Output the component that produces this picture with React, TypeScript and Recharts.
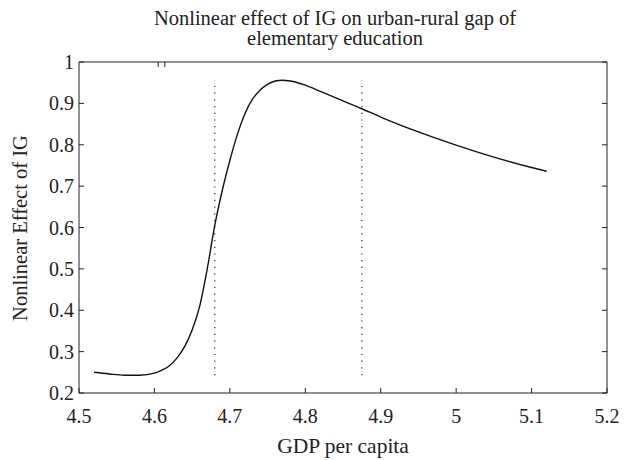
import React from 'react';
import { LineChart, Line, XAxis, YAxis, ReferenceLine } from 'recharts';

const gdp = [
  4.52, 4.54, 4.56, 4.58, 4.6, 4.61, 4.62, 4.63, 4.64, 4.65, 4.66, 4.67, 4.68, 4.69,
  4.7, 4.71, 4.72, 4.73, 4.74, 4.75, 4.76, 4.77, 4.78, 4.8, 4.82, 4.85, 4.875, 4.9,
  4.95, 5.0, 5.05, 5.1, 5.12,
];
const effect = [
  0.25, 0.246, 0.243, 0.243, 0.248, 0.255, 0.266, 0.285, 0.312, 0.352, 0.41, 0.5, 0.605, 0.69,
  0.762, 0.825, 0.875, 0.91, 0.932, 0.946, 0.954, 0.956, 0.954, 0.944, 0.929, 0.906, 0.887, 0.867,
  0.831, 0.799, 0.77, 0.745, 0.736,
];
const thresholds = [4.68, 4.875];
const thresholdSpan = [0.243, 0.956];
const xTicks = [4.5, 4.6, 4.7, 4.8, 4.9, 5, 5.1, 5.2];
const yTicks = [0.2, 0.3, 0.4, 0.5, 0.6, 0.7, 0.8, 0.9, 1];

const data = gdp.map((x, i) => ({ x, y: effect[i] }));

const font = '"Liberation Serif"';
const ink = '#222';
const tickStyle = { fill: ink, fontSize: 20, fontFamily: font };

export default function App() {
  return (
    <div style={{ position: 'absolute', left: 0, top: 0, width: 628, height: 460, background: '#fff' }}>
      <div
        style={{
          position: 'absolute', left: 135, top: 8, width: 400, textAlign: 'center',
          fontFamily: font, fontSize: 20.5, lineHeight: '20px', color: ink,
        }}
      >
        Nonlinear effect of IG on urban-rural gap of
        <br />
        elementary education
      </div>
      <div
        style={{
          position: 'absolute', left: 20, top: 228, transform: 'translate(-50%, -50%) rotate(-90deg)',
          whiteSpace: 'nowrap', fontFamily: font, fontSize: 20.5, color: ink,
        }}
      >
        Nonlinear Effect of IG
      </div>
      <LineChart width={628} height={460} data={data} margin={{ top: 52, right: 11, bottom: 0, left: 0 }}>
        <XAxis
          dataKey="x"
          type="number"
          domain={[4.5, 5.2]}
          ticks={xTicks}
          allowDataOverflow
          height={67}
          tickSize={-5}
          tickMargin={21}
          stroke={ink}
          tick={tickStyle}
          label={{ value: 'GDP per capita', position: 'insideBottom', offset: 7, fill: ink, fontSize: 21.5, fontFamily: font }}
        />
        <XAxis
          xAxisId="top"
          orientation="top"
          type="number"
          domain={[4.5, 5.2]}
          ticks={xTicks}
          allowDataOverflow
          height={10}
          tickSize={-5}
          stroke={ink}
          tickFormatter={() => ''}
        />
        <YAxis
          type="number"
          domain={[0.2, 1]}
          ticks={yTicks}
          allowDataOverflow
          width={79}
          tickSize={-5}
          tickMargin={10}
          stroke={ink}
          tick={tickStyle}
        />
        <YAxis
          yAxisId="right"
          orientation="right"
          type="number"
          domain={[0.2, 1]}
          ticks={yTicks}
          allowDataOverflow
          width={10}
          tickSize={-5}
          stroke={ink}
          tickFormatter={() => ''}
        />
        {thresholds.map((t) => (
          <ReferenceLine
            key={t}
            segment={[{ x: t, y: thresholdSpan[0] }, { x: t, y: thresholdSpan[1] }]}
            stroke={ink}
            strokeWidth={1.2}
            strokeDasharray="1.2 5.5"
          />
        ))}
        <Line
          type="monotone"
          dataKey="y"
          stroke="#111"
          strokeWidth={1.4}
          dot={false}
          isAnimationActive={false}
        />
      </LineChart>
    </div>
  );
}
